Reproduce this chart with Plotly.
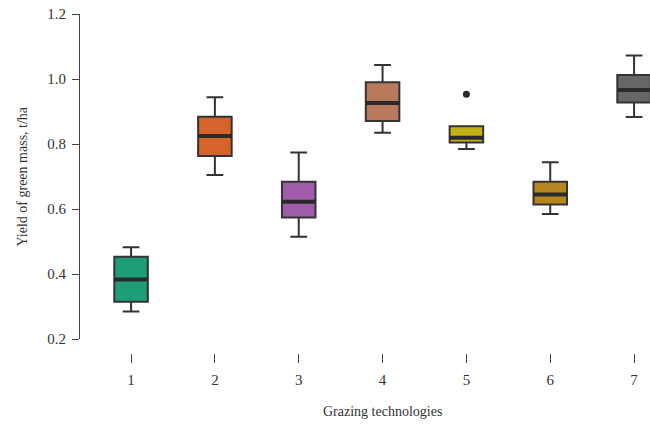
import plotly.graph_objects as go

# Data
categories = [1, 2, 3, 4, 5, 6, 7]
lower_whisker = [0.285, 0.705, 0.515, 0.835, 0.785, 0.585, 0.883]
q1_vals = [0.315, 0.763, 0.574, 0.871, 0.805, 0.614, 0.928]
median_vals = [0.383, 0.825, 0.622, 0.926, 0.819, 0.645, 0.966]
q3_vals = [0.453, 0.884, 0.684, 0.990, 0.855, 0.684, 1.012]
upper_whisker = [0.482, 0.944, 0.774, 1.043, 0.855, 0.744, 1.072]
outlier_x = [5]
outlier_y = [0.953]
colors = ["#1E9E78", "#D6632A", "#A05CAA", "#B97A5C", "#C4B010", "#B5851F", "#666666"]
y_ticks = [0.2, 0.4, 0.6, 0.8, 1.0, 1.2]

FONT = "Liberation Serif"
EDGE = "#333333"
BOX_W = 0.4

fig = go.Figure()
for i, c in enumerate(categories):
    fig.add_trace(go.Box(
        x=[c],
        q1=[q1_vals[i]], median=[median_vals[i]], q3=[q3_vals[i]],
        lowerfence=[lower_whisker[i]], upperfence=[upper_whisker[i]],
        width=BOX_W, whiskerwidth=0.5,
        fillcolor=colors[i],
        line=dict(color=EDGE, width=2),
        boxpoints=False, showlegend=False, hoverinfo="skip",
    ))
    # thicker median bar
    fig.add_trace(go.Scatter(
        x=[c - BOX_W / 2, c + BOX_W / 2], y=[median_vals[i], median_vals[i]],
        mode="lines", line=dict(color="#2a2a2a", width=4),
        showlegend=False, hoverinfo="skip",
    ))

fig.add_trace(go.Scatter(
    x=outlier_x, y=outlier_y, mode="markers",
    marker=dict(color="#2a2a2a", size=7),
    showlegend=False, hoverinfo="skip",
))

W, H = 650, 426
mt, mb, ml, mr = 14, 73, 80, 0
paper_h = H - mt - mb
dom_bottom = (353 - 339) / paper_h

fig.update_layout(
    width=W, height=H,
    margin=dict(l=ml, r=mr, t=mt, b=mb, pad=0),
    plot_bgcolor="white", paper_bgcolor="white",
    font=dict(family=FONT, size=15, color="#333333"),
    xaxis=dict(
        range=[0.391, 7.19], anchor="free", position=0,
        showline=False, showgrid=False, zeroline=False,
        tickmode="array", tickvals=categories, ticktext=[str(c) for c in categories],
        ticks="outside", ticklen=9, tickwidth=1, tickcolor="#444444",
        ticklabelstandoff=4,
        tickfont=dict(family=FONT, size=15, color="#333333"),
    ),
    yaxis=dict(
        range=[0.2, 1.2], domain=[dom_bottom, 1],
        showline=True, linecolor="#444444", linewidth=1,
        showgrid=False, zeroline=False,
        tickmode="array", tickvals=y_ticks, ticktext=[f"{v:.1f}" for v in y_ticks],
        ticks="outside", ticklen=7, tickwidth=1, tickcolor="#444444",
        ticklabelstandoff=3,
        tickfont=dict(family=FONT, size=15, color="#333333"),
    ),
    annotations=[
        dict(text="Yield of green mass, t/ha", textangle=-90,
             xref="paper", yref="y", x=(22 - ml) / (W - ml - mr), y=0.7,
             xanchor="center", yanchor="middle", showarrow=False,
             font=dict(family=FONT, size=14, color="#333333")),
        dict(text="Grazing technologies",
             xref="x", yref="paper", x=4, y=(353 - 412) / paper_h,
             xanchor="center", yanchor="middle", showarrow=False,
             font=dict(family=FONT, size=14, color="#333333")),
    ],
)

fig.write_html("out.html")
